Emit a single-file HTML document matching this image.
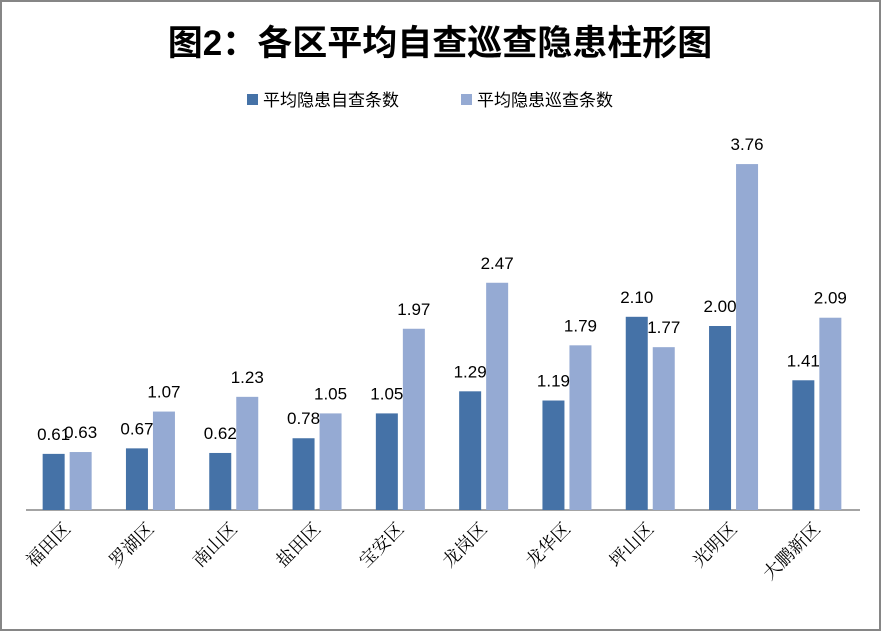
<!DOCTYPE html>
<html><head><meta charset="utf-8"><style>
html,body{margin:0;padding:0;background:#fff}
svg{display:block}
</style></head><body>
<svg id="chart" width="881" height="631" xmlns="http://www.w3.org/2000/svg">
<rect x="1" y="1" width="879" height="629" fill="#fff" stroke="#868686" stroke-width="2"/>
<text x="440" y="55" text-anchor="middle" font-family="'Liberation Sans','Noto Sans CJK SC',sans-serif" font-size="35" font-weight="bold" fill="#000">图2：各区平均自查巡查隐患柱形图</text>
<g>
<rect x="247" y="94" width="11" height="11" fill="#4572A7"/>
<text x="263" y="106" font-family="'Liberation Sans','Noto Sans CJK SC',sans-serif" font-size="17" fill="#000">平均隐患自查条数</text>
<rect x="461" y="94" width="11" height="11" fill="#95AAD3"/>
<text x="477" y="106" font-family="'Liberation Sans','Noto Sans CJK SC',sans-serif" font-size="17" fill="#000">平均隐患巡查条数</text>
</g>
<line x1="26" y1="510" x2="860" y2="510" stroke="#868686" stroke-width="1.5"/>
<g id="bars"></g>
</svg>
<script>
const categories = ["福田区","罗湖区","南山区","盐田区","宝安区","龙岗区","龙华区","坪山区","光明区","大鹏新区"];
const selfValues = [0.61,0.67,0.62,0.78,1.05,1.29,1.19,2.10,2.00,1.41];
const patrolValues = [0.63,1.07,1.23,1.05,1.97,2.47,1.79,1.77,3.76,2.09];
const NS = "http://www.w3.org/2000/svg";
const g = document.getElementById("bars");
const left = 25, right = 858, base = 510, pxPerUnit = 92;
const band = (right-left)/categories.length;
const xc = i => left + band*(i+0.5);
const y = v => base - v*pxPerUnit;
function mk(tag, attrs){const e=document.createElementNS(NS,tag);for(const k in attrs)e.setAttribute(k,attrs[k]);g.appendChild(e);return e;}
categories.forEach((c,i)=>{
  const cx = xc(i);
  [[selfValues[i],"#4572A7",-24,"self"],[patrolValues[i],"#95AAD3",3,"patrol"]].forEach(([v,col,off,s])=>{
    const r = mk("rect",{x:cx+off,y:y(v),width:22,height:base-y(v),fill:col});
    
    
    const t = mk("text",{x:cx+off+11,y:y(v)-14,"text-anchor":"middle","font-family":"'Liberation Sans',sans-serif","font-size":"17",fill:"#000"});
    t.textContent = v.toFixed(2);
    
    
  });
  const lx = cx+5, ly = 530;
  const t = mk("text",{x:lx,y:ly,"text-anchor":"end","font-family":"'Liberation Serif','Noto Serif CJK SC',serif","font-size":"18",fill:"#000",transform:`rotate(-45 ${lx} ${ly})`});
  t.textContent = c;
  
  
});
</script>
</body></html>
